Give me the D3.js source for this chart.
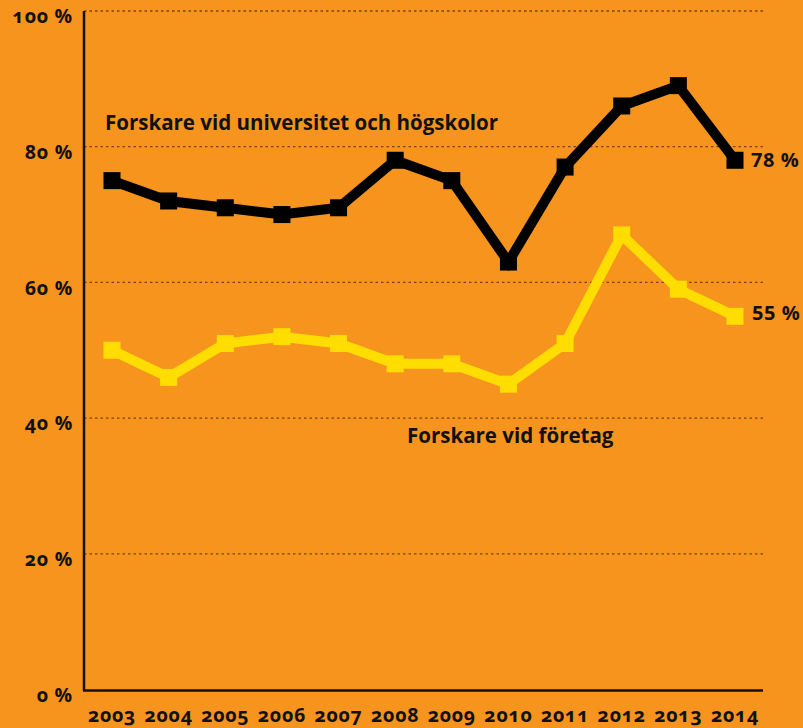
<!DOCTYPE html>
<html><head><meta charset="utf-8">
<script src="https://cdn.jsdelivr.net/npm/d3@7"></script>
<style>
html,body{margin:0;padding:0;background:#F7941E;}
svg{display:block;}
text{font-family:"Open Sans","Noto Sans",sans-serif;font-weight:700;fill:#111;}
.num{font-feature-settings:"onum";}
</style></head><body>
<svg id="c" width="803" height="728"></svg>
<script>
const years = ["2003","2004","2005","2006","2007","2008","2009","2010","2011","2012","2013","2014"];
const universitet = [75,72,71,70,71,78,75,63,77,86,89,78];
const foretag = [50,46,51,52,51,48,48,45,51,67,59,55];
const yTicks = [0,20,40,60,80,100];
const seriesNames = ["Forskare vid universitet och högskolor","Forskare vid företag"];

const svg = d3.select("#c");
const x = d3.scalePoint().domain(years).range([112,735]);
const y = d3.scaleLinear().domain([0,100]).range([689.5,11]);

// gridlines
svg.append("g").selectAll("line").data(yTicks.filter(d=>d>0)).join("line")
  .attr("x1",84).attr("x2",763).attr("y1",d=>y(d)).attr("y2",d=>y(d))
  .attr("stroke","#7a4514").attr("stroke-width",1.3).attr("stroke-dasharray","2.5,3");

// y labels
svg.append("g").selectAll("text").data(yTicks).join("text").attr("class","num")
  .attr("x",73).attr("y",d=>y(d)+7).attr("text-anchor","end").attr("dominant-baseline","middle")
  .attr("font-size",19.5).attr("letter-spacing",0.8).text(d=>d+" %");

// axes lines
svg.append("line").attr("x1",84).attr("x2",84).attr("y1",y(100)).attr("y2",690.5).attr("stroke","#111").attr("stroke-width",2.5);
svg.append("line").attr("x1",83).attr("x2",763).attr("y1",690.5).attr("y2",690.5).attr("stroke","#111").attr("stroke-width",2.5);

// x labels
svg.append("g").selectAll("text").data(years).join("text").attr("class","num")
  .attr("x",d=>x(d)).attr("y",717).attr("text-anchor","middle").attr("dominant-baseline","middle")
  .attr("font-size",19.5).attr("letter-spacing",0.8).text(d=>d);

const line = d3.line().x((d,i)=>x(years[i])).y(d=>y(d));
function drawSeries(vals,color){
  svg.append("path").datum(vals).attr("d",line).attr("fill","none")
    .attr("stroke",color).attr("stroke-width",10).attr("stroke-linejoin","miter");
  svg.append("g").selectAll("rect").data(vals).join("rect")
    .attr("x",(d,i)=>x(years[i])-8.5).attr("y",d=>y(d)-8.5)
    .attr("width",17).attr("height",17).attr("fill",color);
}
drawSeries(foretag,"#FFDD00");
drawSeries(universitet,"#000");

// series labels
svg.append("text").attr("x",105).attr("y",125).attr("dominant-baseline","middle")
  .attr("font-size",20.5).attr("font-weight",600).text(seriesNames[0]);
svg.append("text").attr("x",407).attr("y",438).attr("dominant-baseline","middle")
  .attr("font-size",20.5).attr("font-weight",600).text(seriesNames[1]);

// end labels
svg.append("text").attr("x",751).attr("y",y(universitet[11])+1).attr("dominant-baseline","middle")
  .attr("font-size",20).attr("letter-spacing",0.6).text(universitet[11]+" %");
svg.append("text").attr("x",752).attr("y",y(foretag[11])-2).attr("dominant-baseline","middle")
  .attr("font-size",20).attr("letter-spacing",0.6).text(foretag[11]+" %");
</script></body></html>
